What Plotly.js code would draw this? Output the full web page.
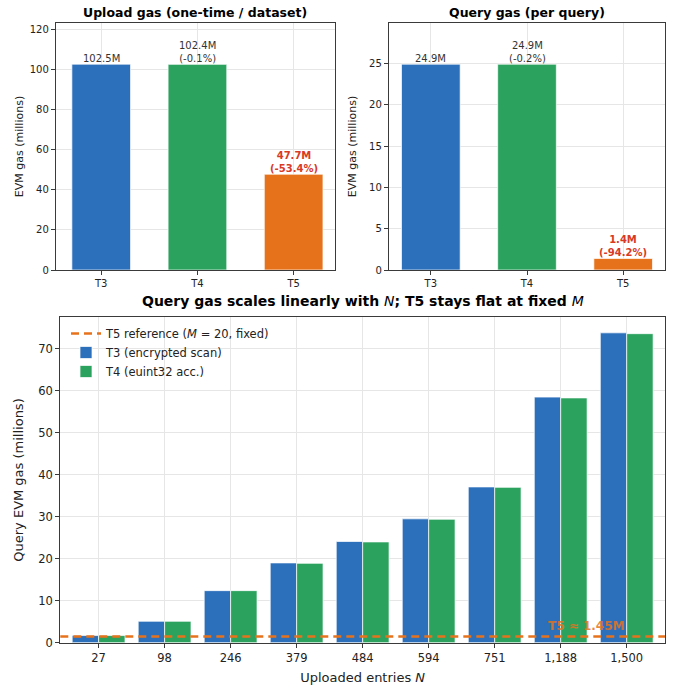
<!DOCTYPE html>
<html>
<head>
<meta charset="utf-8">
<script src="https://cdn.plot.ly/plotly-3.0.1.min.js"></script>
<style>html,body{margin:0;padding:0;background:#fff;}#chart{width:679px;height:688px;}</style>
</head>
<body>
<div id="chart"></div>
<script>
// ---- data ----
const tiers = ["T3", "T4", "T5"];
const uploadGas = [102.5, 102.4, 47.7];
const uploadLabels = ["102.5M", "102.4M<br>(-0.1%)", "47.7M<br>(-53.4%)"];
const queryGas = [24.9, 24.9, 1.4];
const queryLabels = ["24.9M", "24.9M<br>(-0.2%)", "1.4M<br>(-94.2%)"];
const entriesN = ["27", "98", "246", "379", "484", "594", "751", "1,188", "1,500"];
const t3Scan = [1.7, 5.1, 12.4, 19.0, 24.1, 29.5, 37.1, 58.5, 73.8];
const t4Acc  = [1.7, 5.1, 12.4, 18.9, 24.0, 29.4, 37.0, 58.3, 73.6];
const t5Ref = 1.45;

// ---- style ----
const BLUE = "#2c6fbb", GREEN = "#2ca25f", ORANGE = "#e6731c", RED = "#d93a26";
const tierColors = [BLUE, GREEN, ORANGE];
const labelColors = ["#333333", "#333333", RED];
const FONT = "DejaVu Sans, sans-serif";
const GRID = "#e6e6e6", SPINE = "#3a3a3a";

function axisBase(extra) {
  return Object.assign({
    showline: true, mirror: true, linecolor: SPINE, linewidth: 1.2,
    ticks: "outside", ticklen: 4, tickcolor: SPINE, tickwidth: 1,
    showgrid: true, gridcolor: GRID, gridwidth: 1, zeroline: false,
    tickfont: {family: FONT, size: 10, color: "#222"}
  }, extra);
}

const traces = [
  {type: "bar", x: tiers, y: uploadGas, xaxis: "x", yaxis: "y", width: 0.61,
   marker: {color: tierColors, line: {color: "rgba(255,255,255,0.7)", width: 1}}, showlegend: false, hoverinfo: "skip"},
  {type: "bar", x: tiers, y: queryGas, xaxis: "x2", yaxis: "y2", width: 0.61,
   marker: {color: tierColors, line: {color: "rgba(255,255,255,0.7)", width: 1}}, showlegend: false, hoverinfo: "skip"},
  {type: "bar", x: entriesN, y: t3Scan, xaxis: "x3", yaxis: "y3", width: 0.4, offset: -0.4,
   name: "T3 (encrypted scan)", legendrank: 2,
   marker: {color: BLUE, line: {color: "rgba(255,255,255,0.7)", width: 1}}},
  {type: "bar", x: entriesN, y: t4Acc, xaxis: "x3", yaxis: "y3", width: 0.4, offset: 0,
   name: "T4 (euint32 acc.)", legendrank: 3,
   marker: {color: GREEN, line: {color: "rgba(255,255,255,0.7)", width: 1}}}
];

const annotations = [];
tiers.forEach((t, i) => {
  annotations.push({xref: "x", yref: "y", x: t, y: uploadGas[i], text: uploadLabels[i], showarrow: false,
    yanchor: "bottom", font: {family: FONT, size: 10, color: labelColors[i], weight: i === 2 ? "bold" : "normal"}, yshift: -2});
  annotations.push({xref: "x2", yref: "y2", x: t, y: queryGas[i], text: queryLabels[i], showarrow: false,
    yanchor: "bottom", font: {family: FONT, size: 10, color: labelColors[i], weight: i === 2 ? "bold" : "normal"}, yshift: -2});
});
annotations.push({xref: "x3", yref: "y3", x: entriesN.length - 1, y: t5Ref, text: "T5 ≈ " + t5Ref + "M",
  showarrow: false, xanchor: "right", yanchor: "bottom", xshift: 0, yshift: 2,
  font: {family: FONT, size: 12, color: "rgba(230,115,28,0.85)", weight: "bold"}});
// titles
annotations.push({xref: "paper", yref: "paper", x: (56 + 335) / 2 / 679, y: 1 - 12 / 688, text: "<b>Upload gas (one-time / dataset)</b>",
  showarrow: false, xanchor: "center", yanchor: "middle", font: {family: FONT, size: 12.5, color: "#000"}});
annotations.push({xref: "paper", yref: "paper", x: (389 + 665) / 2 / 679, y: 1 - 12 / 688, text: "<b>Query gas (per query)</b>",
  showarrow: false, xanchor: "center", yanchor: "middle", font: {family: FONT, size: 12.5, color: "#000"}});
annotations.push({xref: "paper", yref: "paper", x: (60 + 665) / 2 / 679, y: 1 - 301 / 688,
  text: "<b>Query gas scales linearly with </b><i>N</i><b>; T5 stays flat at fixed </b><i>M</i>",
  showarrow: false, xanchor: "center", yanchor: "middle", font: {family: FONT, size: 14, color: "#000"}});

const layout = {
  width: 679, height: 688, margin: {l: 0, r: 0, t: 0, b: 0},
  paper_bgcolor: "#fff", plot_bgcolor: "#fff", barmode: "overlay",
  font: {family: FONT, color: "#222"},
  xaxis: axisBase({domain: [56 / 679, 335 / 679], anchor: "y", type: "category", range: [-0.47, 2.43]}),
  yaxis: axisBase({domain: [1 - 270 / 688, 1 - 23 / 688], anchor: "x", range: [0, 123], dtick: 20,
    title: {text: "EVM gas (millions)", font: {family: FONT, size: 11, color: "#222"}, standoff: 3}}),
  xaxis2: axisBase({domain: [389 / 679, 665 / 679], anchor: "y2", type: "category", range: [-0.435, 2.435]}),
  yaxis2: axisBase({domain: [1 - 270 / 688, 1 - 23 / 688], anchor: "x2", range: [0, 29.88], dtick: 5,
    title: {text: "EVM gas (millions)", font: {family: FONT, size: 11, color: "#222"}, standoff: 10}}),
  xaxis3: axisBase({domain: [60.3 / 679, 665 / 679], anchor: "y3", type: "category", range: [-0.58, 8.58],
    tickfont: {family: FONT, size: 11.5, color: "#222"},
    title: {text: "Uploaded entries <i>N</i>", font: {family: FONT, size: 13, color: "#222"}, standoff: 9}}),
  yaxis3: axisBase({domain: [1 - 642.7 / 688, 1 - 317.3 / 688], anchor: "x3", range: [0, 77.5], dtick: 10,
    tickfont: {family: FONT, size: 11.5, color: "#222"},
    title: {text: "Query EVM gas (millions)", font: {family: FONT, size: 13, color: "#222"}, standoff: 11}}),
  shapes: [{type: "line", xref: "x3 domain", yref: "y3", x0: 0, x1: 1, y0: t5Ref, y1: t5Ref,
    line: {color: ORANGE, width: 2.5, dash: "8px,5px"}, showlegend: true, legendrank: 1,
    name: "T5 reference (<i>M</i> = 20, fixed)"}],
  legend: {x: 66 / 679, y: 1 - 319 / 688, xanchor: "left", yanchor: "top", bgcolor: "rgba(255,255,255,0)",
    font: {family: FONT, size: 11.5, color: "#222"}, tracegroupgap: 0, itemwidth: 30},
  annotations: annotations
};

Plotly.newPlot("chart", traces, layout, {displayModeBar: false, staticPlot: true});
</script>
</body>
</html>
